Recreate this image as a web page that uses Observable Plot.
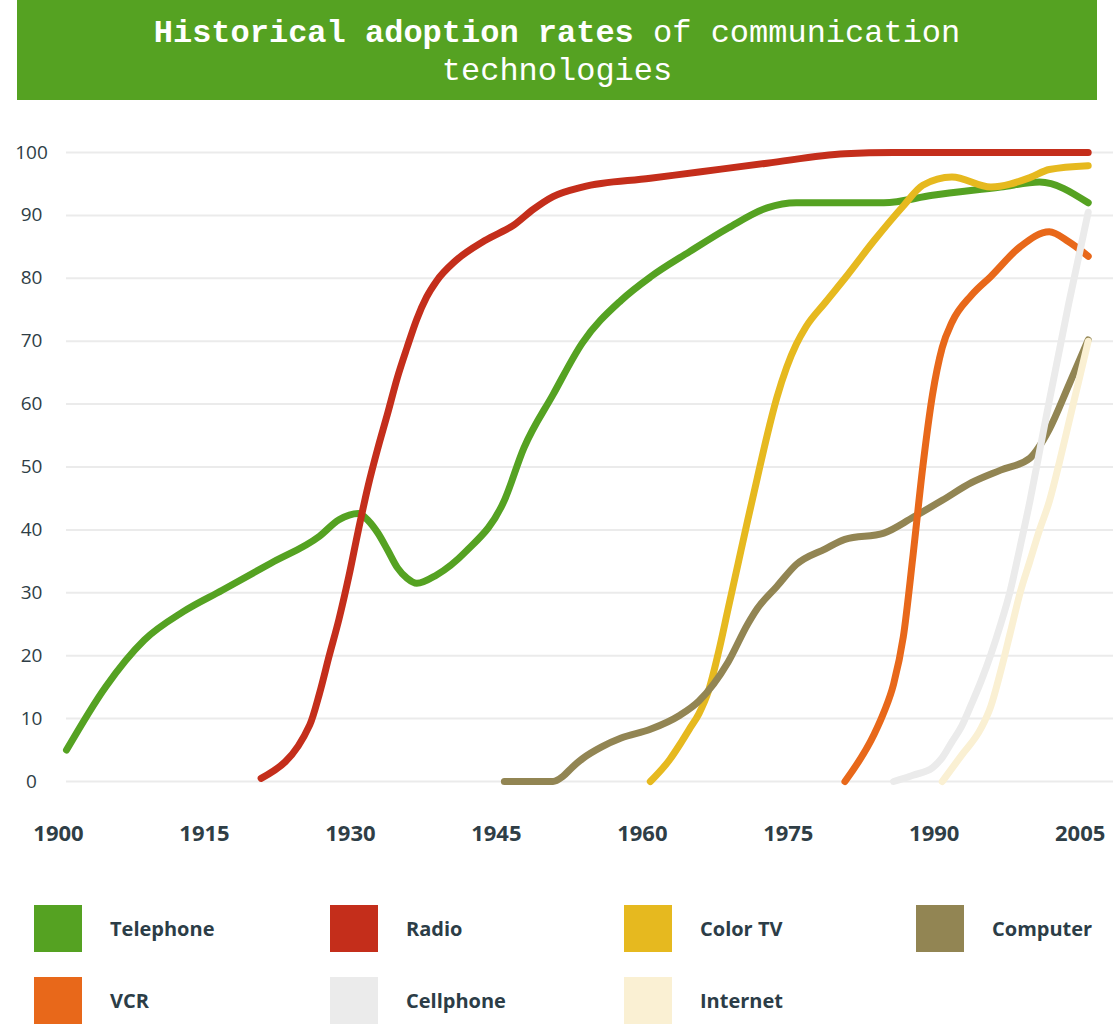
<!DOCTYPE html>
<html>
<head>
<meta charset="utf-8">
<script src="https://cdn.jsdelivr.net/npm/d3@7"></script>
<script src="https://cdn.jsdelivr.net/npm/@observablehq/plot@0.6"></script>
<style>
  html, body { margin: 0; padding: 0; background: #fff; }
  #wrap { position: relative; width: 1113px; height: 1024px; overflow: hidden; }
  #banner { position: absolute; left: 17px; top: 0; width: 1080px; height: 100px; background: #55a222;
    color: #fff; font-family: "Courier New", "Liberation Mono", monospace; font-size: 32px; line-height: 38px;
    text-align: center; box-sizing: border-box; padding-top: 15px; }
  #banner b { font-weight: bold; }
  #chart { position: absolute; left: 0; top: 100px; }
  #legend { position: absolute; left: 0; top: 905px; width: 1113px; font-family: "Open Sans", sans-serif; }
  .item { position: absolute; height: 47px; }
  .sw { position: absolute; left: 0; top: 0; width: 48px; height: 47px; }
  .lb { position: absolute; left: 76px; top: 0; height: 47px; line-height: 47px; white-space: nowrap;
    font-size: 20px; font-weight: bold; color: #2c3d47; }
</style>
</head>
<body>
<div id="wrap">
  <div id="banner"><b>Historical adoption rates</b> of communication<br>technologies</div>
  <div id="chart"></div>
  <div id="legend"></div>
</div>
<script>
const categories = ["Telephone", "Radio", "Color TV", "Computer", "VCR", "Cellphone", "Internet"];
const colors = ["#55a222", "#c42e1b", "#e6b91f", "#928553", "#e8681a", "#ebebeb", "#faf0d3"];
const xTicks = [1900, 1915, 1930, 1945, 1960, 1975, 1990, 2005];
const yTicks = [0, 10, 20, 30, 40, 50, 60, 70, 80, 90, 100];

const telephone = [[1900,5],[1904,15],[1908,22.5],[1912,27],[1916,30.4],[1921,34.7],[1926,39],[1928,41.6],[1930,42.6],[1931,41.5],[1932,39.5],[1933,36.8],[1934,34],[1935,32.3],[1936,31.5],[1938,32.8],[1941,36.5],[1945,44.7],[1947,53],[1950,61.5],[1953,69.7],[1957,76.5],[1960,80.2],[1964,84.2],[1968,88],[1972,91.2],[1975,92],[1980,92],[1984,92],[1989,93.2],[1996,94.5],[2000,95.3],[2005,92]];
const radio = [[1920,0.5],[1925,9],[1926,14],[1927,20],[1928,25.8],[1929,32.5],[1930,40],[1931,47],[1932,53],[1933,58.5],[1934,64.2],[1935,69],[1936,73.5],[1937,77],[1938,79.5],[1940,82.8],[1943,86],[1946,88.5],[1948,91],[1950,93],[1953,94.5],[1960,95.9],[1965,96.9],[1972,98.3],[1980,99.8],[1985,100],[2005,100]];
const colorTV = [[1960,0],[1962,3.5],[1963,5.8],[1964,8.3],[1965,10.8],[1966,14.5],[1967,20.5],[1968,27.5],[1969,34.5],[1970,41.5],[1971,48.3],[1972,55],[1973,61],[1974,65.8],[1975,69.5],[1976,72.3],[1978,76.2],[1980,80],[1983,86],[1986,91.5],[1988,94.8],[1991,96.1],[1995,94.5],[1999,96],[2001,97.3],[2005,97.9]];
const computer = [[1945,0],[1950,0],[1951,0.8],[1952,2.3],[1953,3.6],[1955,5.5],[1957,6.9],[1960,8.3],[1963,10.5],[1965,12.8],[1968,19],[1970,25],[1971,27.5],[1973,31],[1975,34.5],[1978,37],[1980,38.5],[1984,39.5],[1987,42],[1990,44.7],[1993,47.5],[1996,49.5],[1999,51.4],[2001,56],[2003,63],[2005,70.2]];
const vcr = [[1980,0],[1983,7.5],[1984,11],[1985,15.5],[1986,23],[1987,36],[1988,50],[1989,61.5],[1990,69],[1991,73],[1993,77.3],[1995,80.3],[1998,85],[2001,87.4],[2003,85.8],[2005,83.5]];
const cellphone = [[1985,0],[1987,1],[1989,2.2],[1990,3.8],[1991,6.3],[1992,8.8],[1993,12.3],[1994,16],[1995,20.2],[1996,25],[1997,30.4],[1998,37.3],[1999,44.5],[2000,52.5],[2001,60.5],[2003,76],[2005,90.5]];
const internet = [[1990,0],[1992,4.2],[1994,8.5],[1995,12],[1996,17.5],[1997,23.7],[1998,30],[1999,35],[2000,40],[2001,44.5],[2002,50.5],[2003,57],[2004,63.5],[2005,70]];

const series = [telephone, radio, colorTV, computer, vcr, cellphone, internet];

const lineMarks = series.map((s, i) => Plot.line(s, {
  x: d => d[0], y: d => d[1], stroke: colors[i], strokeWidth: 7,
  strokeLinecap: "round", strokeLinejoin: "round", curve: "monotone-x"
}));

const chart = Plot.plot({
  width: 1113, height: 761,
  marginLeft: 66, marginRight: 0, marginTop: 52, marginBottom: 80,
  x: { domain: [1900, 2007.6] },
  y: { domain: [0, 100] },
  style: { fontFamily: "'Open Sans', sans-serif", color: "#2f3e46", background: "transparent" },
  marks: [
    Plot.ruleY(yTicks, { stroke: "#ebebeb", strokeWidth: 2 }),
    Plot.axisY(yTicks, { tickSize: 0, tickPadding: 35, textAnchor: "middle", fontSize: 19, label: null }),
    Plot.axisX(xTicks, { tickSize: 0, tickPadding: 44, dx: -8, fontSize: 22, fontWeight: "bold", tickFormat: d => String(d), label: null }),
    ...lineMarks
  ]
});
document.getElementById("chart").appendChild(chart);

const legend = document.getElementById("legend");
const colX = [34, 330, 624, 916];
categories.forEach((c, i) => {
  const item = document.createElement("div");
  item.className = "item";
  item.style.left = colX[i % 4] + "px";
  item.style.top = (Math.floor(i / 4) * 72) + "px";
  item.innerHTML = `<div class="sw" style="background:${colors[i]}"></div><div class="lb">${c}</div>`;
  legend.appendChild(item);
});
</script>
</body>
</html>
